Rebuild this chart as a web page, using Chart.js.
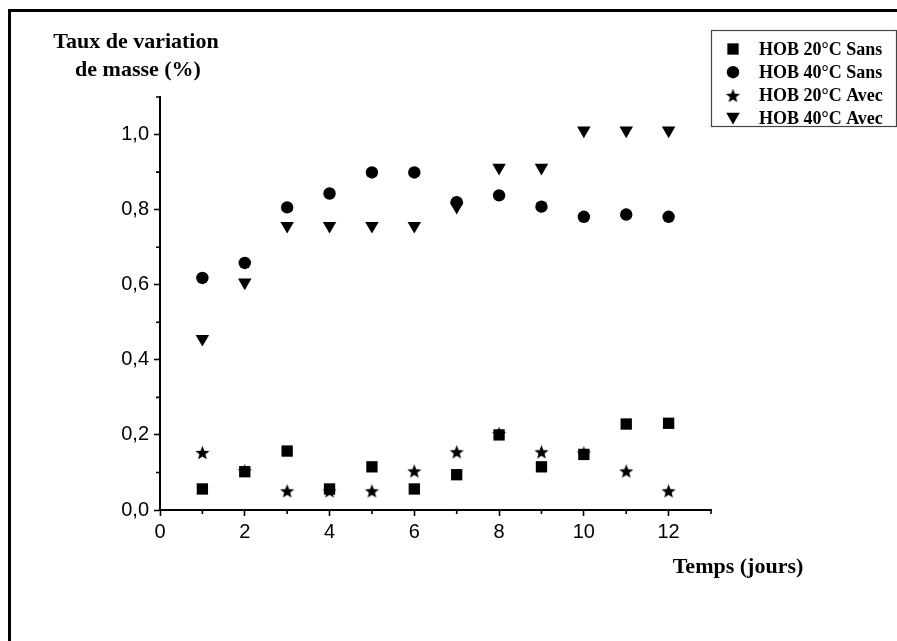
<!DOCTYPE html>
<html>
<head>
<meta charset="utf-8">
<script src="https://cdn.jsdelivr.net/npm/chart.js"></script>
<style>
html, body { margin: 0; padding: 0; background: #fff; }
#wrap { position: relative; width: 897px; height: 641px; overflow: hidden; }
#frame { position: absolute; left: 8px; top: 9px; width: 1000px; height: 1000px;
         border-top: 3px solid #000; border-left: 3px solid #000; }
#c { position: absolute; left: 0; top: 0; }
</style>
</head>
<body>
<div id="wrap">
  <div id="frame"></div>
  <canvas id="c" width="897" height="641"></canvas>
</div>
<script>
// ---- DATA ----
const days = [1, 2, 3, 4, 5, 6, 7, 8, 9, 10, 11, 12];
const hob20Sans = [0.056, 0.102, 0.157, 0.056, 0.115, 0.056, 0.094, 0.200, 0.115, 0.148, 0.229, 0.231];
const hob40Sans = [0.618, 0.658, 0.806, 0.843, 0.899, 0.899, 0.820, 0.838, 0.808, 0.781, 0.787, 0.781];
const hob20Avec = [0.153, 0.105, 0.051, 0.051, 0.051, 0.104, 0.155, 0.204, 0.155, 0.152, 0.104, 0.051];
const hob40Avec = [0.456, 0.606, 0.757, 0.757, 0.757, 0.757, 0.808, 0.912, 0.912, 1.011, 1.011, 1.011];
const seriesNames = ["HOB 20°C Sans", "HOB 40°C Sans", "HOB 20°C Avec", "HOB 40°C Avec"];
const xTicks = [0, 2, 4, 6, 8, 10, 12];
const yTicks = [0, 0.2, 0.4, 0.6, 0.8, 1.0];
const yTitle = ["Taux de variation", "de masse (%)"];
const xTitle = "Temps (jours)";

const serif = '"Liberation Serif", "Times New Roman", serif';
const sans = '"Liberation Sans", Arial, sans-serif';

// filled five point star, used as an image point style
function makeStar(R) {
    const size = Math.ceil(R * 2) + 2;
    const c = document.createElement("canvas");
    c.width = size; c.height = size;
    const g = c.getContext("2d");
    const cx = size / 2, cy = size / 2 + 0.7, r = R * 0.43;
    g.beginPath();
    for (let i = 0; i < 10; i++) {
        const rad = i % 2 === 0 ? R : r;
        const a = -Math.PI / 2 + i * Math.PI / 5;
        const px = cx + Math.cos(a) * rad, py = cy + Math.sin(a) * rad;
        if (i === 0) g.moveTo(px, py); else g.lineTo(px, py);
    }
    g.closePath();
    g.fillStyle = "#000";
    g.fill();
    return c;
}
const star = makeStar(7.4);

function pts(values) {
    return days.map((d, i) => ({ x: d, y: values[i] }));
}

function makeSet(label, values, style, radius, rotation) {
    return {
        label: label,
        data: pts(values),
        pointStyle: style,
        pointRadius: radius,
        pointRotation: rotation || 0,
        pointBackgroundColor: "#000",
        pointBorderColor: "#000",
        pointBorderWidth: 0,
        showLine: false
    };
}

// ---- minor ticks, axis titles and framed legend ----
const extras = {
    id: "extras",
    afterDraw(chart) {
        const ctx = chart.ctx;
        const xs = chart.scales.x, ys = chart.scales.y;
        const area = chart.chartArea;
        ctx.save();
        ctx.strokeStyle = "#000";
        ctx.lineWidth = 1.6;
        ctx.beginPath();
        for (let v = 1; v <= 13; v += 2) {
            const px = xs.getPixelForValue(v);
            ctx.moveTo(px, area.bottom);
            ctx.lineTo(px, area.bottom + 4);
        }
        for (let k = 1; k <= 11; k += 2) {
            const py = ys.getPixelForValue(k / 10);
            ctx.moveTo(area.left, py);
            ctx.lineTo(area.left - 4, py);
        }
        ctx.stroke();

        // axis titles
        ctx.fillStyle = "#000";
        ctx.font = "bold 22px " + serif;
        ctx.textAlign = "center";
        ctx.textBaseline = "alphabetic";
        ctx.fillText(yTitle[0], 136, 48);
        ctx.fillText(yTitle[1], 138, 76);
        ctx.fillText(xTitle, 738, 573);

        // legend
        const lx = 711, ly = 30, lw = 185, lh = 96;
        ctx.strokeStyle = "#444";
        ctx.lineWidth = 1.2;
        ctx.strokeRect(lx + 0.5, ly + 0.5, lw, lh);
        ctx.font = "bold 18px " + serif;
        ctx.textAlign = "left";
        ctx.textBaseline = "middle";
        chart.data.datasets.forEach((ds, i) => {
            const cy = 49 + i * 23.2;
            ctx.fillStyle = "#000";
            Chart.helpers.drawPoint(ctx, {
                pointStyle: ds.pointStyle,
                radius: ds.pointRadius,
                rotation: ds.pointRotation,
                borderWidth: 0
            }, 733, ds.pointRotation ? cy - 2 : cy);
            ctx.fillText(ds.label, 759, cy + 1);
        });
        ctx.restore();
    }
};

new Chart(document.getElementById("c"), {
    type: "scatter",
    data: {
        datasets: [
            makeSet(seriesNames[0], hob20Sans, "rect", 8),
            makeSet(seriesNames[1], hob40Sans, "circle", 6.2),
            makeSet(seriesNames[2], hob20Avec, star, 7.4),
            makeSet(seriesNames[3], hob40Avec, "triangle", 7.8, 180)
        ]
    },
    options: {
        responsive: false,
        animation: false,
        events: [],
        layout: { padding: { left: 100, right: 186, top: 97, bottom: 91 } },
        plugins: { legend: { display: false }, tooltip: { enabled: false } },
        scales: {
            x: {
                type: "linear",
                min: 0,
                max: 13,
                afterFit(scale) { scale.height = 40; },
                afterBuildTicks(scale) { scale.ticks = xTicks.map(v => ({ value: v })); },
                grid: { drawOnChartArea: false, drawTicks: true, tickLength: 6, tickWidth: 1.6, tickColor: "#000" },
                border: { display: true, color: "#000", width: 2 },
                ticks: { color: "#000", font: { family: sans, size: 20 }, padding: 4, maxRotation: 0 }
            },
            y: {
                type: "linear",
                min: 0,
                max: 1.1,
                afterFit(scale) { scale.width = 60; },
                afterBuildTicks(scale) { scale.ticks = yTicks.map(v => ({ value: v })); },
                grid: { drawOnChartArea: false, drawTicks: true, tickLength: 6, tickWidth: 1.6, tickColor: "#000" },
                border: { display: true, color: "#000", width: 2 },
                ticks: {
                    color: "#000",
                    font: { family: sans, size: 20 },
                    padding: 5,
                    callback: v => v.toFixed(1).replace(".", ",")
                }
            }
        }
    },
    plugins: [extras]
});
</script>
</body>
</html>
